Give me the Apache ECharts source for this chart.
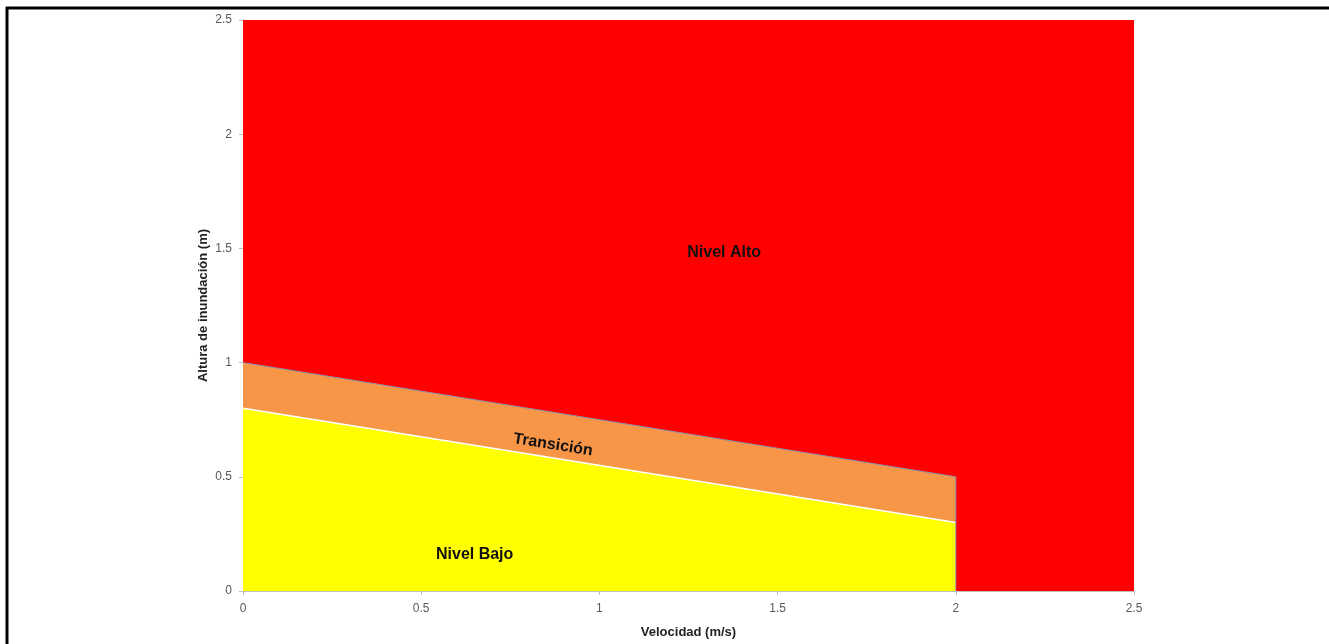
<!DOCTYPE html>
<html>
<head>
<meta charset="utf-8">
<script src="https://cdn.jsdelivr.net/npm/echarts@6/dist/echarts.min.js"></script>
<style>html,body{margin:0;padding:0;background:#fff}#c{width:1329px;height:644px}</style>
</head>
<body>
<div id="c"></div>
<script>
// Zone boundaries (x = velocidad m/s, y = altura m)
const altoZone = [[0, 2.5], [2.5, 2.5]];
const transicionTop = [[0, 1.0], [2.0, 0.5]];
const bajoTop = [[0, 0.8], [2.0, 0.3]];
const zoneLabels = [
  { name: 'Nivel Alto', coord: [1.35, 1.48], rotate: 0 },
  { name: 'Transición', coord: [0.87, 0.64], rotate: -9 },
  { name: 'Nivel Bajo', coord: [0.65, 0.16], rotate: 0 }
];
const axisTicks = [0, 0.5, 1, 1.5, 2, 2.5];

const chart = echarts.init(document.getElementById('c'));
const font = 'Liberation Sans, Arial, sans-serif';
const axisCommon = {
  type: 'value', min: 0, max: 2.5, interval: 0.5,
  axisLine: { show: true, lineStyle: { color: '#bfbfbf', width: 1 } },
  axisTick: { show: true, length: 4, lineStyle: { color: '#bfbfbf' } },
  splitLine: { show: false },
  axisLabel: { color: '#595959', fontSize: 12, fontFamily: font,
    formatter: v => axisTicks.includes(v) ? String(v) : '' },
  nameLocation: 'middle',
  nameMoveOverlap: false,
  nameTextStyle: { color: '#222', fontSize: 13, fontWeight: 'bold', fontFamily: font }
};
chart.setOption({
  animation: false,
  grid: { left: 243, right: 195, top: 20, bottom: 52 },
  xAxis: Object.assign({}, axisCommon, { name: 'Velocidad (m/s)', nameGap: 35,
    axisLabel: Object.assign({}, axisCommon.axisLabel, { margin: 12 }) }),
  yAxis: Object.assign({}, axisCommon, { name: 'Altura de inundación (m)', nameGap: 33,
    axisLabel: Object.assign({}, axisCommon.axisLabel, { margin: 11 }) }),
  graphic: [
    { type: 'line', shape: { x1: 6, y1: 8, x2: 1329, y2: 8 }, style: { stroke: '#000', lineWidth: 3 } },
    { type: 'line', shape: { x1: 7, y1: 7, x2: 7, y2: 644 }, style: { stroke: '#000', lineWidth: 3 } }
  ],
  series: [
    { type: 'line', data: altoZone, symbol: 'none', lineStyle: { width: 0 },
      areaStyle: { color: '#ff0000', opacity: 1, origin: 'start' }, z: 1 },
    { type: 'line', data: transicionTop, symbol: 'none',
      lineStyle: { width: 1, color: '#8a8fb0' },
      areaStyle: { color: '#f79646', opacity: 1, origin: 'start' }, z: 2 },
    { type: 'line', data: bajoTop, symbol: 'none',
      lineStyle: { width: 1.5, color: '#ffffff' },
      areaStyle: { color: '#ffff00', opacity: 1, origin: 'start' }, z: 3,
      markPoint: {
        symbol: 'circle', symbolSize: 0,
        data: zoneLabels.map(l => ({ name: l.name, coord: l.coord,
          label: { show: true, formatter: l.name, rotate: l.rotate, position: 'inside',
            color: '#111', fontSize: 16, fontWeight: 'bold', fontFamily: font } }))
      }
    },
    { type: 'line', data: [[2.0, 0], [2.0, 0.5]], symbol: 'none',
      lineStyle: { width: 1, color: '#8a8fb0' }, z: 4 }
  ]
});
</script>
</body>
</html>
